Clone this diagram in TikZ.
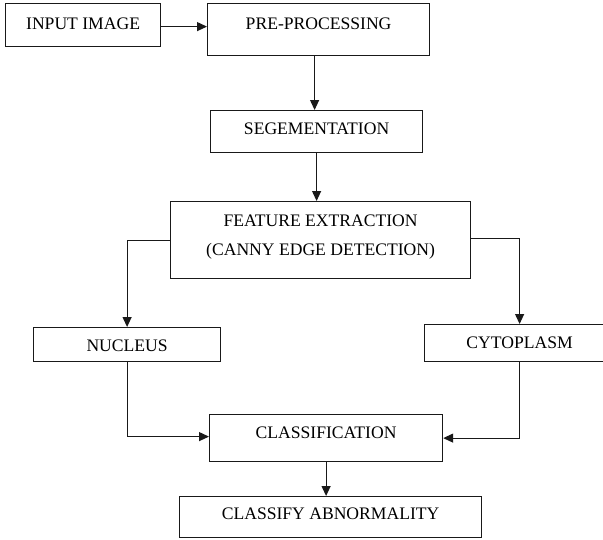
\documentclass[tikz,border=0pt]{standalone}
\usepackage{fontspec}
\setmainfont{Liberation Serif}
\usetikzlibrary{arrows.meta}
\newcommand\vstr[2]{\rule[-#2pt]{0pt}{\dimexpr#1pt+#2pt\relax}}
\begin{document}
\begin{tikzpicture}[x=1pt,y=-1pt,
  box/.style={draw=black!90, line width=1.2pt, inner xsep=0pt, inner ysep=0pt,
    anchor=north west, align=center, text=black,
    font=\fontsize{17.6}{21}\selectfont},
  arr/.style={draw=black!90, line width=1.2pt, -{Triangle[length=10pt,width=9pt]}}]
\useasboundingbox (0,0) rectangle (603,539);
\node[box, minimum width=155pt] (inp) at (5,3) {\vstr{25.5}{17.5}INPUT IMAGE};
\node[box, minimum width=222pt] (pre) at (207,3) {\vstr{25.5}{26.5}PRE-PROCESSING};
\node[box, minimum width=212pt] (seg) at (210,110) {\vstr{24}{18}SEGEMENTATION};
\node[box, minimum width=300pt] (feat) at (170,201)
  {\vstr{25}{0}FEATURE EXTRACTION\\[7.5pt](CANNY EDGE DETECTION)\vstr{0}{23.5}};
\node[box, minimum width=187pt] (nuc) at (33,327) {\vstr{24}{10}NUCLEUS};
\node[box, minimum width=190pt] (cyto) at (424,324) {\vstr{24}{13}CYTOPLASM};
\node[box, minimum width=233pt] (cls) at (209,414) {\vstr{24}{23}CLASSIFICATION};
\node[box, minimum width=302pt] (abn) at (179,496) {\vstr{23}{18}CLASSIFY ABNORMALITY};
\draw[arr] ([yshift=-1.5pt]inp.east) -- ([yshift=-1.5pt]inp.east -| pre.west);
\draw[arr] ([xshift=-4pt]pre.south) -- ([xshift=-4pt]pre.south |- seg.north);
\draw[arr] (seg.south) -- (seg.south |- feat.north);
\draw[arr] (feat.west) -| (nuc.north);
\draw[arr] ([yshift=2pt]feat.east) -| (cyto.north);
\draw[arr] (nuc.south) |- ([yshift=1.5pt]cls.west);
\draw[arr] (cyto.south) |- (cls.east);
\draw[arr] (cls.south) -- (cls.south |- abn.north);
\end{tikzpicture}
\end{document}
